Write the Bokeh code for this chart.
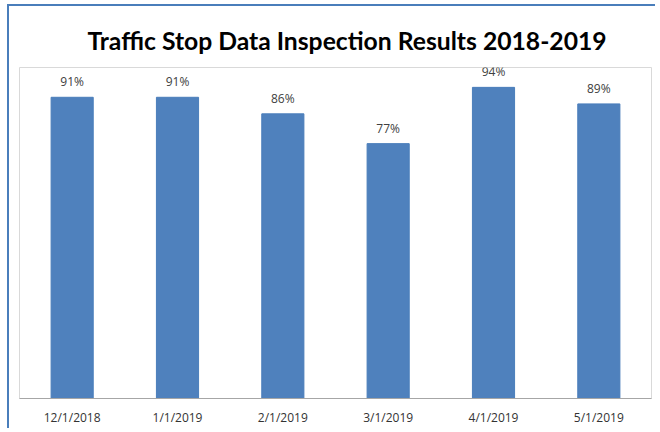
from bokeh.plotting import figure
from bokeh.models import ColumnDataSource
from bokeh.core.properties import value
from bokeh.embed import file_html
from bokeh.resources import INLINE

months = ["12/1/2018", "1/1/2019", "2/1/2019", "3/1/2019", "4/1/2019", "5/1/2019"]
results = [91, 91, 86, 77, 94, 89]
labels = [f"{v}%" for v in results]

src = ColumnDataSource(dict(x=months, y=results, lab=labels))

p = figure(x_range=months, y_range=(0, 100), width=648, height=424,
           title="Traffic Stop Data Inspection Results 2018-2019",
           output_backend="svg", toolbar_location=None,
           min_border_left=10, min_border_right=6, min_border_top=61, min_border_bottom=32,
           styles={"margin-left": "7px", "margin-top": "4px",
                   "border-top": "2px solid #4a7ebb", "border-left": "2px solid #4a7ebb"})
p.vbar(x="x", top="y", width=0.4, source=src, fill_color="#4f81bd", line_color="#4a7ebb")
p.text(x="x", y="y", text="lab", source=src, text_align="center", text_baseline="bottom",
       y_offset=-7, text_font_size="12px", text_color="#404040", text_font=value("Open Sans"))

p.title.align = "left"
p.title.offset = 68
p.title.text_font = "Lato"
p.title.text_font_style = "bold"
p.title.text_font_size = "24.7px"
p.title.text_color = "#000000"
p.title.standoff = 25

p.yaxis.visible = False
p.xgrid.grid_line_color = None
p.ygrid.grid_line_color = None
p.outline_line_color = "#d9d9d9"
p.xaxis.axis_line_color = "#a6a6a6"
p.xaxis.major_tick_line_color = None
p.xaxis.minor_tick_line_color = None
p.xaxis.major_label_text_font = "Open Sans"
p.xaxis.major_label_text_font_size = "12px"
p.xaxis.major_label_text_color = "#333333"
p.xaxis.major_label_standoff = 4
p.x_range.range_padding = 0

open("out.html", "w").write(file_html(p, INLINE))
